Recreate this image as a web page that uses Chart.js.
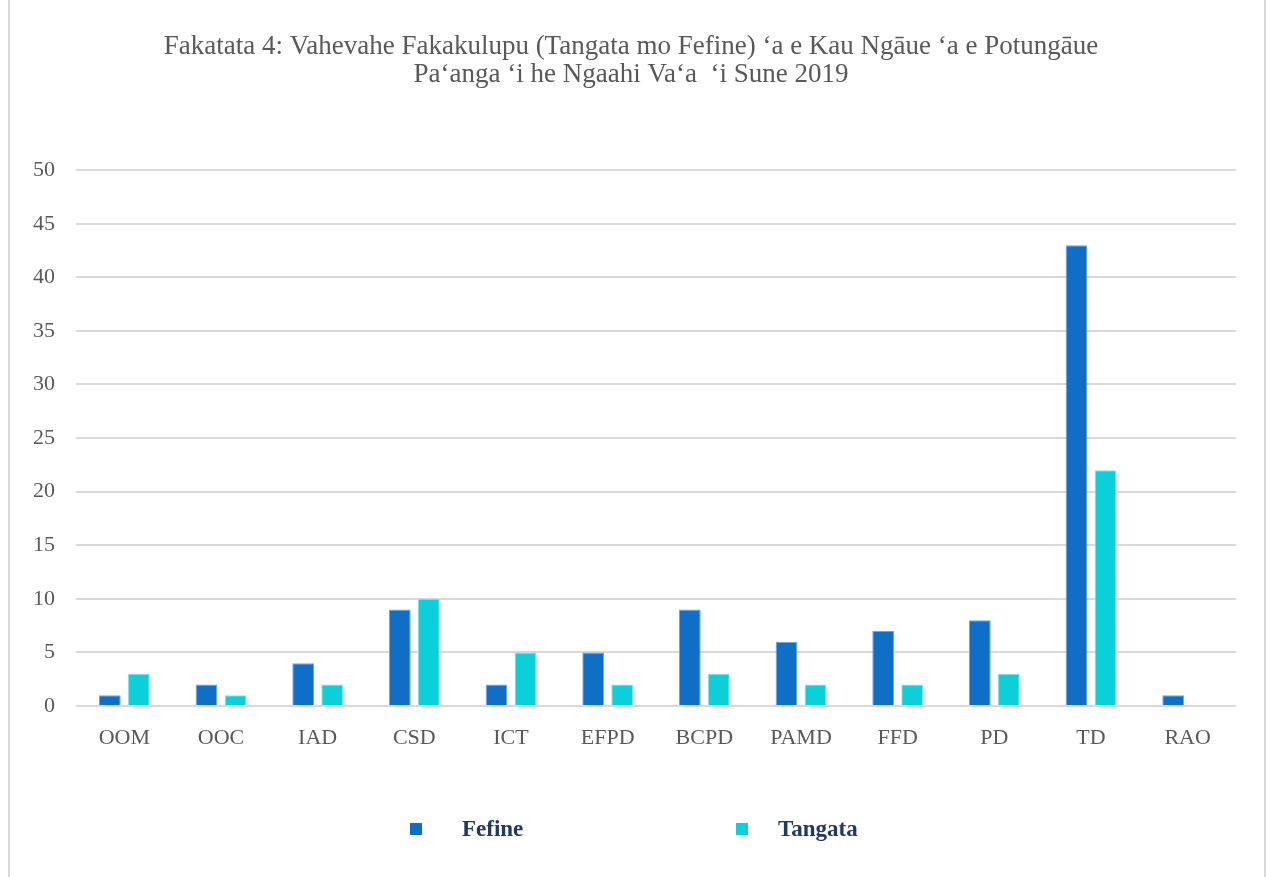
<!DOCTYPE html>
<html>
<head>
<meta charset="utf-8">
<script src="https://cdn.jsdelivr.net/npm/chart.js@4.4.0/dist/chart.umd.min.js"></script>
<style>
    html, body { margin: 0; padding: 0; background: #fff; overflow: hidden; }
    #frame { position: absolute; left: 8px; top: -3px; width: 1254px; height: 885px; border: 2px solid #d9d9d9; }
    #wrap { position: absolute; left: 0; top: 0; width: 1266px; height: 877px; }
</style>
</head>
<body>
<div id="frame"></div>
<div id="wrap"><canvas id="staffChart" width="1266" height="877"></canvas></div>
<script>
// Chart data
const divisions = ['OOM', 'OOC', 'IAD', 'CSD', 'ICT', 'EFPD', 'BCPD', 'PAMD', 'FFD', 'PD', 'TD', 'RAO'];
const fefine = [1, 2, 4, 9, 2, 5, 9, 6, 7, 8, 43, 1];
const tangata = [3, 1, 2, 10, 5, 2, 3, 2, 2, 3, 22, 0];
const yTicks = [0, 5, 10, 15, 20, 25, 30, 35, 40, 45, 50];

const titleLines = [
    'Fakatata 4: Vahevahe Fakakulupu (Tangata mo Fefine) ‘a e Kau Ngāue ‘a e Potungāue',
    'Pa‘anga ‘i he Ngaahi Va‘a  ‘i Sune 2019'
];

const serif = '"Liberation Serif", "Times New Roman", serif';

// Legend drawn by hand so the wide box-to-text gap matches
const bottomLegend = {
    id: 'bottomLegend',
    afterDraw(chart) {
        const ctx = chart.ctx;
        const spots = [{ box: 410, text: 462 }, { box: 736, text: 778 }];
        ctx.save();
        ctx.font = 'bold 23px ' + serif;
        ctx.textBaseline = 'middle';
        chart.data.datasets.forEach((ds, i) => {
            ctx.fillStyle = ds.backgroundColor;
            ctx.fillRect(spots[i].box, 823, 12, 12);
            ctx.fillStyle = '#203864';
            ctx.fillText(ds.label, spots[i].text, 830);
        });
        ctx.restore();
    }
};

const ctx = document.getElementById('staffChart').getContext('2d');
new Chart(ctx, {
    type: 'bar',
    data: {
        labels: divisions,
        datasets: [{
            label: 'Fefine',
            data: fefine,
            backgroundColor: '#0F6FC6',
            borderColor: '#6fa6de',
            borderWidth: { top: 1, left: 1, right: 1, bottom: 0 },
            barPercentage: 0.75,
            categoryPercentage: 0.6
        }, {
            label: 'Tangata',
            data: tangata,
            backgroundColor: '#0BD0D9',
            borderColor: '#7ee6ea',
            borderWidth: { top: 1, left: 1, right: 1, bottom: 0 },
            barPercentage: 0.75,
            categoryPercentage: 0.6
        }]
    },
    options: {
        responsive: false,
        animation: false,
        layout: {
            padding: { left: 26, right: 30, top: 0, bottom: 131 }
        },
        plugins: {
            legend: { display: false },
            tooltip: { enabled: false },
            title: {
                display: true,
                text: titleLines,
                color: '#595959',
                font: { family: serif, size: 27, weight: 'normal', lineHeight: 1.04 },
                padding: { top: 33, bottom: 81 }
            }
        },
        scales: {
            x: {
                grid: { display: false, drawTicks: false },
                border: { display: false },
                ticks: {
                    color: '#595959',
                    font: { family: serif, size: 22 },
                    padding: 19,
                    maxRotation: 0
                },
                afterFit(scale) { scale.height = 40; }
            },
            y: {
                min: 0,
                max: 50,
                afterBuildTicks(scale) {
                    scale.ticks = yTicks.map(v => ({ value: v }));
                },
                grid: { color: '#d9d9d9', lineWidth: 2, drawTicks: false },
                border: { display: false },
                ticks: {
                    color: '#595959',
                    font: { family: serif, size: 22 },
                    padding: 21
                },
                afterFit(scale) { scale.width = 50; }
            }
        }
    },
    plugins: [bottomLegend]
});
</script>
</body>
</html>
